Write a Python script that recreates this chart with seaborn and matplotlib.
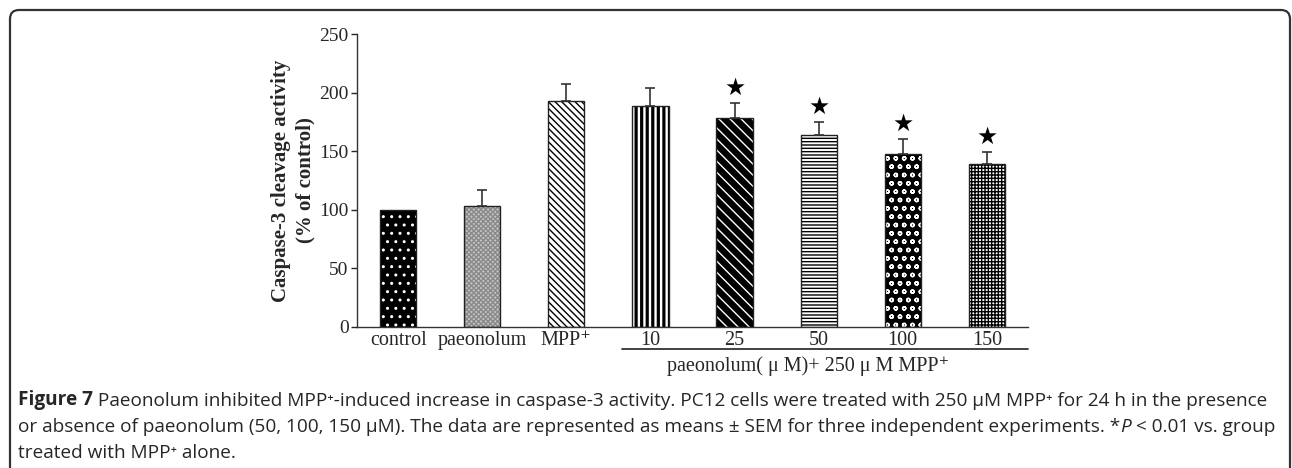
import pandas as pd
import numpy as np
import matplotlib
matplotlib.use("Agg")
import matplotlib.pyplot as plt
import seaborn as sns
from matplotlib.patches import FancyBboxPatch
from matplotlib.transforms import IdentityTransform

# Datos
grupos = ["control", "paeonolum", "MPP⁺", "10", "25", "50", "100", "150"]
valores = [100, 103, 193, 189, 178, 164, 148, 139]
errores = [0, 14, 14, 15, 13, 11, 12, 10]
significativo = [False, False, False, False, True, True, True, True]

# Estilo de relleno de cada barra: (color de fondo, trama, color de trama, grosor)
rellenos = [
    ("black", "..", "white", 1.0),
    ("#c4c4c4", "xxxxxxx", "#8a8a8a", 1.0),
    ("white", "\\\\\\\\\\", "black", 1.0),
    ("white", "|||", "black", 2.3),
    ("black", "\\\\\\", "white", 1.0),
    ("white", "-----", "black", 1.0),
    ("black", "oo", "white", 1.0),
    ("white", "+++++", "black", 1.0),
]

sns.set_style("white")
plt.rcParams["font.family"] = ["Liberation Serif", "DejaVu Serif"]
plt.rcParams["hatch.linewidth"] = 1.0

fig = plt.figure(figsize=(12.92, 4.68), dpi=100)
ax = fig.add_axes([0.2763, 0.3013, 0.5194, 0.626])

df = pd.DataFrame({"grupo": grupos, "valor": valores})
sns.barplot(data=df, x="grupo", y="valor", order=grupos, errorbar=None,
            width=0.43, color="white", ax=ax)

for barra, (fondo, trama, ctrama, grosor) in zip(list(ax.patches), rellenos):
    barra.set_facecolor(fondo)
    barra.set_hatch(trama)
    barra.set_edgecolor(ctrama)
    barra.set_linewidth(0)
    if hasattr(barra, "set_hatch_linewidth"):
        barra.set_hatch_linewidth(grosor)
    # contorno negro encima
    ax.add_patch(plt.Rectangle(barra.get_xy(), barra.get_width(), barra.get_height(),
                               fill=False, edgecolor="#222222", linewidth=1.0, zorder=3))

x = np.arange(len(grupos))
err = np.array(errores)
mask = err > 0
ax.errorbar(x[mask], np.array(valores)[mask], yerr=[np.zeros(mask.sum()), err[mask]],
            fmt="none", ecolor="#333333", elinewidth=1.2, capsize=3.5, capthick=1.2, zorder=4)

for xi, v, e, s in zip(x, valores, errores, significativo):
    if s:
        ax.text(xi, v + e + 3, "★", ha="center", va="bottom", fontsize=17,
                family=["DejaVu Sans"], color="black")

ax.set_xlim(-0.49, 7.49)
ax.set_ylim(0, 250)
ax.set_yticks([0, 50, 100, 150, 200, 250])
ax.set_xlabel("")
ax.set_ylabel("Caspase-3 cleavage activity\n(% of control)", fontsize=15,
              fontweight="bold", labelpad=3, linespacing=1.3)
ax.tick_params(axis="y", labelsize=14, direction="out", length=4, width=1, left=True, pad=2)
ax.tick_params(axis="x", labelsize=14.5, length=0, pad=3)
sns.despine(ax=ax)
for lado in ["left", "bottom"]:
    ax.spines[lado].set_color("#333333")
    ax.spines[lado].set_linewidth(1.0)

# linea bajo las dosis y texto del grupo
ax.plot([2.66, 7.49], [-0.075, -0.075], transform=ax.get_xaxis_transform(),
        color="#333333", lw=1.3, clip_on=False)
ax.text(4.87, -0.135, "paeonolum( μ M)+ 250 μ M MPP⁺", transform=ax.get_xaxis_transform(),
        ha="center", va="center", fontsize=14.5)

# marco redondeado
marco = FancyBboxPatch((10, -40), 1280, 498, boxstyle="round,pad=0,rounding_size=9",
                       transform=IdentityTransform(), fill=False, edgecolor="#333333",
                       linewidth=1.6)
fig.add_artist(marco)

# pie de figura
capa = fig.add_axes([0, 0, 1, 1], facecolor="none")
capa.axis("off")
fuente = ["Open Sans", "DejaVu Sans"]
tam = 13.7


def linea(piezas, x0, y0):
    previo = None
    for texto, peso, estilo in piezas:
        if previo is None:
            previo = capa.text(x0, y0, texto, transform=fig.transFigure, ha="left",
                               va="bottom", fontsize=tam, family=fuente,
                               fontweight=peso, fontstyle=estilo)
        else:
            previo = capa.annotate(texto, xy=(1, 0), xycoords=previo, ha="left",
                                   va="bottom", fontsize=tam, family=fuente,
                                   fontweight=peso, fontstyle=estilo)


linea([("Figure 7", "bold", "normal"),
       (" Paeonolum inhibited MPP⁺-induced increase in caspase-3 activity. PC12 cells were "
        "treated with 250 μM MPP⁺ for 24 h in the presence", "normal", "normal")],
      18 / 1292, 1 - 410 / 468)
linea([("or absence of paeonolum (50, 100, 150 μM). The data are represented as means ± SEM "
        "for three independent experiments. *", "normal", "normal"),
       ("P", "normal", "italic"),
       (" < 0.01 vs. group", "normal", "normal")],
      18 / 1292, 1 - 436 / 468)
linea([("treated with MPP⁺ alone.", "normal", "normal")], 18 / 1292, 1 - 462 / 468)

fig.savefig("out.png", dpi=100)
